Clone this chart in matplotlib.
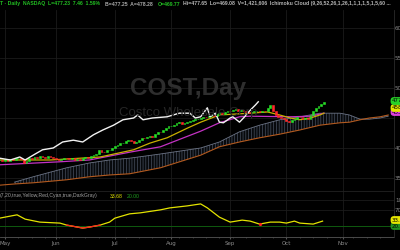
import numpy as np
import matplotlib
matplotlib.use("Agg")
import matplotlib.pyplot as plt

plt.rcParams['hatch.linewidth'] = 0.45

# ---------------- data ----------------
bar_start = -2
closes = [380, 378, 381, 379, 382, 380, 383, 384, 381, 375,
          378, 383, 382, 385, 384, 386, 385, 383, 386, 385,
          383, 381, 380, 382, 384, 383, 381, 383, 380, 381,
          380, 383, 385, 384, 386, 388, 390, 397, 394, 393,
          396, 397, 400, 403, 405, 408, 409, 411, 413, 412,
          408, 410, 414, 417, 416, 418, 420, 419, 423, 427,
          426, 430, 433, 436, 437, 439, 441, 443, 440, 442,
          444, 445, 446, 448, 449, 450, 452, 451, 454, 455,
          453, 456, 458, 457, 460, 462, 461, 463, 465, 462,
          464, 462, 460, 458, 460, 461, 462, 460, 462, 461,
          466, 471, 462, 455, 452, 450, 448, 445, 444, 447,
          449, 452, 451, 448, 450, 449, 455, 462, 467, 470, 473, 477]

white_idx = [-2, 2, 5.5, 7.5, 10.5, 14, 18, 21.5, 25.5, 29, 33, 36.5, 40.5, 44, 48,
             49.5, 51.5, 55, 60.5, 65, 69, 71, 73, 75.5, 76.5, 78.5, 80, 81.5, 84, 85,
             87.5, 89, 91.5, 93.5, 94.5]
white_val = [383, 380, 385, 380, 388, 397, 400, 410, 413, 410, 422, 430, 438, 447, 450,
             455, 447, 450, 452, 458, 458, 450, 452, 467, 452, 458, 443, 442, 450, 452,
             443, 450, 463, 472, 477]

yellow_idx = [-2, 17, 35.5, 48, 54, 60.5, 68, 73, 80, 91.5, 98, 102.5, 106.5, 110, 114, 117.5, 119]
yellow_val = [380, 380, 385, 397, 408, 417, 433, 443, 455, 458, 460, 455, 450, 447, 450, 455, 458]

magenta_idx = [-2, 20.5, 31.5, 46.5, 58, 73, 80, 87.5, 91.5, 106.5, 114, 119]
magenta_val = [372, 377, 380, 393, 402, 428, 442, 452, 453, 452, 453, 458]

cloud_idx = [3.5, 10.5, 23, 31.5, 39, 46.5, 58, 73, 80, 87.5, 95, 102.5, 110, 117.5,
             125, 128.5, 132.5, 136, 140, 143]
cloud_top = [343, 352, 367, 375, 380, 383, 390, 400, 410, 427, 438, 447, 452, 458,
             458, 455, 448, 448, 450, 453]
cloud_bot = [340, 342, 347, 352, 355, 357, 367, 388, 402, 410, 417, 423, 430, 438,
             442, 443, 447, 450, 452, 455]
brown_lead_idx = [-2]
brown_lead_val = [338]

adx_idx = [-2, 4.5, 7.5, 13, 20.5, 23, 29, 31.5, 35.5, 39, 41, 46.5, 50.5, 58, 61.5,
           68, 73, 75.5, 80, 84, 88.5, 91.5, 95, 99, 102.5, 105, 108, 110, 115, 118.5]
adx_val = [45, 55, 42, 33, 30, 24, 15, 18, 24, 33, 45, 58, 61, 70, 76,
           82, 88, 76, 48, 33, 39, 36, 27, 33, 33, 30, 36, 30, 27, 36]
adx_red_points = [5, 6, 7, 8]      # indices into adx arrays (red run)
adx_red_dot = [22]
adx_level = 20

month_pos = [0, 19, 41, 62, 84, 105, 126]
month_labels = ['May', 'Jun', 'Jul', 'Aug', 'Sep', 'Oct', 'Nov']
price_grid = [350, 400, 450, 500, 550, 600]
price_labels = [600, 550, 500, 400, 350]
adx_grid = [70, 100]

# ---------------- layout ----------------
W, H = 400, 250
fig = plt.figure(figsize=(W / 100, H / 100), dpi=100, facecolor='black')


def rect(x0, y0, x1, y1):
    return [x0 / W, 1 - y1 / H, (x1 - x0) / W, (y1 - y0) / H]


def fx(px):
    return px / W


def fy(py):
    return 1 - py / H


ax = fig.add_axes(rect(0, 10, 394, 191))
ax2 = fig.add_axes(rect(0, 191, 394, 237))
xl = (-5 / 2.68, (394 - 5) / 2.68)
for a in (ax, ax2):
    a.set_facecolor('black')
    a.set_xlim(*xl)
    for s in a.spines.values():
        s.set_visible(False)
    a.set_yticks([])
ax.set_xticks([])
ax.set_ylim(328.3, 630)
ax2.set_ylim(-12, 127)

# grid
for p in price_grid:
    ax.axhline(p, color='#1b1b1b', lw=0.6, zorder=0)
for m in month_pos:
    ax.axvline(m, color='#1b1b1b', lw=0.6, zorder=0)
    ax2.axvline(m, color='#1b1b1b', lw=0.6, zorder=0)
for g in adx_grid:
    ax2.axhline(g, color='#1b1b1b', lw=0.6, zorder=0)

# watermark
fig.text(fx(188), fy(89), 'COST,Day', ha='center', va='center',
         fontsize=17.5, fontweight='bold', family='Liberation Sans', color='#2e2e2e', zorder=1)
fig.text(fx(188), fy(113), 'Costco Wholesale Corp', ha='center', va='center',
         fontsize=9.5, family='Liberation Sans', color='#262626', zorder=1)

# cloud
ax.fill_between(cloud_idx, cloud_bot, cloud_top, facecolor='#07090c', edgecolor='#4f5869',
                hatch='||||||', lw=0, zorder=2)
ax.plot(cloud_idx, cloud_top, color='#6c7486', lw=0.6, zorder=3)
ax.plot(brown_lead_idx + cloud_idx, brown_lead_val + cloud_bot, color='#b35a1f', lw=0.8, zorder=3)

# lines
ax.plot(magenta_idx, magenta_val, color='#c432c4', lw=0.9, zorder=4)
ax.plot(yellow_idx, yellow_val, color='#c9b000', lw=0.9, zorder=4)

# candles
idx = np.arange(bar_start, bar_start + len(closes))
c = np.array(closes, dtype=float)
o = np.concatenate([[c[0]], c[:-1]])
up = c >= o
cols = np.where(up, '#27e027', '#ff2a2a')
ax.bar(idx, c - o, bottom=o, width=0.7, color=cols, edgecolor=cols, lw=0.4, zorder=5)

ax.plot(white_idx, white_val, color='#f2f2f2', lw=1.0, zorder=6)

# lower panel
ax2.axhline(adx_level, color='#0f5a0f', lw=0.7, zorder=1)
ax2.plot(adx_idx, adx_val, color='#e3e300', lw=0.9, zorder=3)
ax2.plot([adx_idx[k] for k in adx_red_points], [adx_val[k] for k in adx_red_points],
         color='#ff2020', lw=0.9, zorder=4)
ax2.plot([adx_idx[k] for k in adx_red_dot], [adx_val[k] for k in adx_red_dot], 'o',
         color='#ff2020', ms=1.3, zorder=4)

ax2.set_xticks(month_pos)
ax2.set_xticklabels(month_labels)
ax2.set_xticks(np.arange(0, 145, 5), minor=True)
ax2.tick_params(axis='x', which='major', length=1.5, color='#555555', labelcolor='#8c8c8c',
                labelsize=4, pad=1.5)
ax2.tick_params(axis='x', which='minor', length=1, color='#444444')
ax2.spines['bottom'].set_visible(True)
ax2.spines['bottom'].set_color('#555555')
ax2.spines['bottom'].set_linewidth(0.6)

# panel separator
fig.add_artist(plt.Line2D([0, fx(394)], [fy(191), fy(191)], color='#222222', lw=0.6))
fig.add_artist(plt.Line2D([fx(394), fx(394)], [fy(10), fy(237)], color='#2a2a2a', lw=0.6))

# right axis labels (clipped by the image edge, as in the original)
for p in price_labels:
    py = 88 - (p - 500) * 30 / 50
    fig.text(fx(395), fy(py), str(p), color='#8c8c8c', fontsize=4, va='center', ha='left')
fig.text(fx(395), fy(200), '100', color='#8c8c8c', fontsize=4, va='center', ha='left')
fig.text(fx(395), fy(210), '70', color='#8c8c8c', fontsize=4, va='center', ha='left')

# price tags
tag = dict(boxstyle='round,pad=0.25,rounding_size=0.6', ec='none')
fig.text(fx(392), fy(112), '453.10', fontsize=4, color='black', va='center',
         bbox=dict(tag, fc='#e040e0'))
fig.text(fx(392), fy(108), '458.02', fontsize=4, color='black', va='center',
         bbox=dict(tag, fc='#e6e600'))
fig.text(fx(392), fy(101), '477.23', fontsize=4, color='black', va='center',
         bbox=dict(tag, fc='#27d027'))
fig.text(fx(392), fy(226), '20.00', fontsize=4, color='black', va='center',
         bbox=dict(tag, fc='#1f8f1f'))
fig.text(fx(392), fy(220), '33.68', fontsize=4, color='black', va='center',
         bbox=dict(tag, fc='#e6e600'))

# header
hf = dict(fontsize=3.7, family='Liberation Sans', fontweight='bold', va='center', ha='left')
fig.text(fx(0), fy(4), 'T \u00b7 Daily  NASDAQ  L=477.23  7.46  1.59%', color='#22c022', **hf)
fig.text(fx(105), fy(4), 'B=477.25  A=478.28', color='#a8a8a8', **hf)
fig.text(fx(158), fy(4), 'O=469.77', color='#22c022', **hf)
fig.text(fx(183), fy(4), 'Hi=477.65  Lo=469.08  V=1,421,606  Ichimoku Cloud (9,26,52,26,1,26,1,1,1,1,5,1,5,60 ...',
         color='#b4b4b4', **hf)

# lower panel legend
lf = dict(fontsize=3.7, family='Liberation Sans', va='center', ha='left')
fig.text(fx(0), fy(196), '(7,20,true,Yellow,Red,Cyan,true,DarkGray)', color='#a0a0a0', **lf)
fig.text(fx(110), fy(196), '33.68', color='#e6e600', **lf)
fig.text(fx(127), fy(196), '20.00', color='#1fa01f', **lf)

fig.savefig('out.png', dpi=100, facecolor='black')
